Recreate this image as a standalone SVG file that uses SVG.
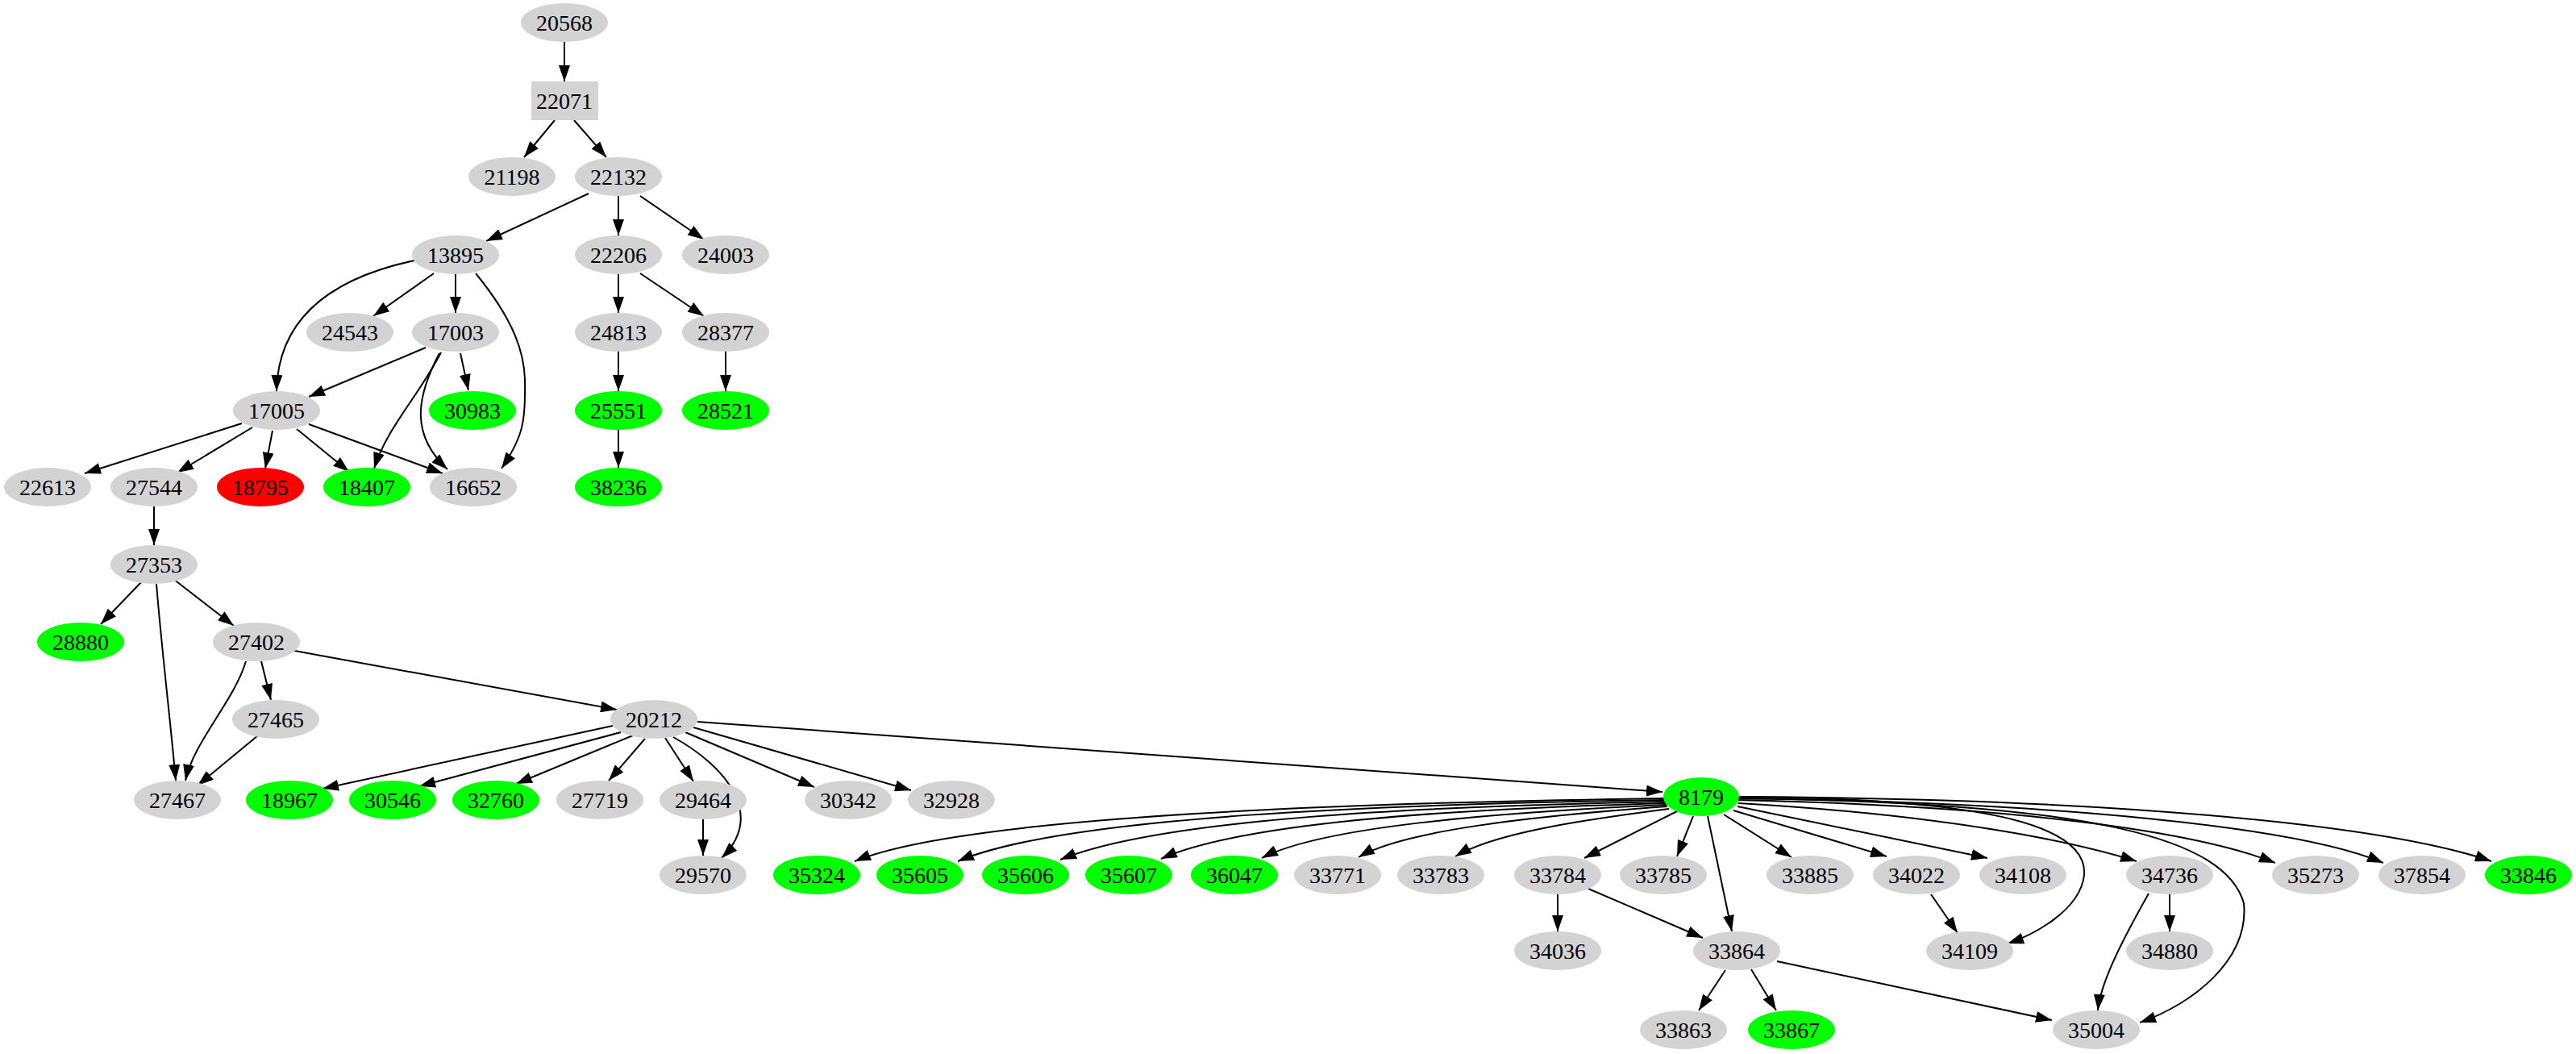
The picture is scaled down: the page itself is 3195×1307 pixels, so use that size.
<svg xmlns="http://www.w3.org/2000/svg" width="3195" height="1307" viewBox="0 0 3195 1307">
<style>
.n ellipse,.n rect{fill:#d3d3d3}
.g ellipse{fill:#00ff00}
.r ellipse{fill:#ff0000}
text{font-family:"Liberation Serif","Times New Roman",serif;font-size:28px;text-anchor:middle;dominant-baseline:central;fill:#000}
#edges path{fill:none;stroke:#000;stroke-width:2;marker-end:url(#a)}
</style>
<defs><marker id="a" markerUnits="userSpaceOnUse" markerWidth="20" markerHeight="14" refX="20" refY="7" orient="auto"><path d="M0,0 L20,7 L0,14 z" fill="#000"/></marker></defs>
<rect width="3195" height="1307" fill="#fff"/>
<g id="edges">
<path d="M700,52 L700,101"/>
<path d="M688,149 L650,195"/>
<path d="M712,149 L752,195"/>
<path d="M730,240 L603,299"/>
<path d="M767,243 L767,292"/>
<path d="M794,243 L873,297"/>
<path d="M538,339 L463,392"/>
<path d="M565,340 L565,388"/>
<path d="M514,323 C425,342 345,385 343,485"/>
<path d="M590,339 C640,400 650,440 651,470 C652,520 650,540 622,581"/>
<path d="M528,431 L383,492"/>
<path d="M571,438 L581,484"/>
<path d="M547,437 C520,490 480,530 464,581"/>
<path d="M545,438 C515,495 510,540 555,582"/>
<path d="M300,525 L105,587"/>
<path d="M313,530 L220,586"/>
<path d="M338,534 L329,581"/>
<path d="M368,532 L433,585"/>
<path d="M383,526 L549,587"/>
<path d="M767,340 L767,388"/>
<path d="M794,339 L873,392"/>
<path d="M767,436 L767,485"/>
<path d="M900,436 L900,485"/>
<path d="M767,533 L767,580"/>
<path d="M191,628 L191,676"/>
<path d="M175,722 L125,774"/>
<path d="M215,718 L290,776"/>
<path d="M194,724 C200,800 212,900 218,968"/>
<path d="M305,820 C290,870 240,920 230,968"/>
<path d="M324,820 L336,868"/>
<path d="M320,912 L245,974"/>
<path d="M360,806 L765,880"/>
<path d="M760,900 L400,978"/>
<path d="M770,908 L520,975"/>
<path d="M785,912 L640,972"/>
<path d="M800,916 L755,968"/>
<path d="M825,915 L860,969"/>
<path d="M850,908 L1010,976"/>
<path d="M860,902 L1130,980"/>
<path d="M865,895 L2062,982"/>
<path d="M835,914 C900,950 950,1010 895,1064"/>
<path d="M872,1016 L872,1061"/>
<path d="M2064,990 C1700,995 1200,1010 1060,1068"/>
<path d="M2064,992 C1720,997 1320,1012 1188,1068"/>
<path d="M2065,994 C1760,1000 1440,1015 1315,1066"/>
<path d="M2066,996 C1800,1003 1540,1020 1440,1065"/>
<path d="M2067,998 C1850,1008 1640,1025 1565,1064"/>
<path d="M2068,1000 C1900,1012 1740,1030 1685,1063"/>
<path d="M2070,1003 C1950,1018 1850,1035 1805,1062"/>
<path d="M2080,1006 L1965,1064"/>
<path d="M2100,1012 L2080,1062"/>
<path d="M2138,1010 L2222,1063"/>
<path d="M2150,1005 L2340,1062"/>
<path d="M2155,1000 L2465,1064"/>
<path d="M2156,996 C2400,1010 2560,1040 2650,1068"/>
<path d="M2156,992 C2500,1000 2720,1030 2822,1070"/>
<path d="M2156,990 C2550,995 2850,1025 2956,1070"/>
<path d="M2156,988 C2600,990 2950,1020 3090,1068"/>
<path d="M2118,1012 L2148,1155"/>
<path d="M2157,988 C2450,990 2590,1020 2585,1085 C2580,1130 2520,1160 2490,1170"/>
<path d="M2157,990 C2600,995 2760,1040 2783,1120 C2790,1190 2720,1245 2654,1268"/>
<path d="M1932,1109 L1932,1155"/>
<path d="M1970,1102 L2112,1163"/>
<path d="M2395,1109 L2428,1157"/>
<path d="M2691,1109 L2691,1155"/>
<path d="M2665,1108 C2630,1170 2605,1220 2602,1253"/>
<path d="M2140,1203 L2107,1253"/>
<path d="M2172,1202 L2203,1253"/>
<path d="M2204,1192 L2545,1265"/>
</g>
<g id="n20568" class="n"><ellipse cx="700" cy="28" rx="54" ry="24"/><text x="700" y="28">20568</text></g>
<g id="n22071" class="n"><rect x="659" y="101" width="83" height="48"/><text x="700" y="125">22071</text></g>
<g id="n21198" class="n"><ellipse cx="635" cy="219" rx="54" ry="24"/><text x="635" y="219">21198</text></g>
<g id="n22132" class="n"><ellipse cx="767" cy="219" rx="54" ry="24"/><text x="767" y="219">22132</text></g>
<g id="n13895" class="n"><ellipse cx="565" cy="316" rx="54" ry="24"/><text x="565" y="316">13895</text></g>
<g id="n22206" class="n"><ellipse cx="767" cy="316" rx="54" ry="24"/><text x="767" y="316">22206</text></g>
<g id="n24003" class="n"><ellipse cx="900" cy="316" rx="54" ry="24"/><text x="900" y="316">24003</text></g>
<g id="n24543" class="n"><ellipse cx="434" cy="412" rx="54" ry="24"/><text x="434" y="412">24543</text></g>
<g id="n17003" class="n"><ellipse cx="565" cy="412" rx="54" ry="24"/><text x="565" y="412">17003</text></g>
<g id="n24813" class="n"><ellipse cx="767" cy="412" rx="54" ry="24"/><text x="767" y="412">24813</text></g>
<g id="n28377" class="n"><ellipse cx="900" cy="412" rx="54" ry="24"/><text x="900" y="412">28377</text></g>
<g id="n17005" class="n"><ellipse cx="343" cy="509" rx="54" ry="24"/><text x="343" y="509">17005</text></g>
<g id="n30983" class="g"><ellipse cx="586" cy="509" rx="54" ry="24"/><text x="586" y="509">30983</text></g>
<g id="n25551" class="g"><ellipse cx="767" cy="509" rx="54" ry="24"/><text x="767" y="509">25551</text></g>
<g id="n28521" class="g"><ellipse cx="900" cy="509" rx="54" ry="24"/><text x="900" y="509">28521</text></g>
<g id="n22613" class="n"><ellipse cx="59" cy="604" rx="54" ry="24"/><text x="59" y="604">22613</text></g>
<g id="n27544" class="n"><ellipse cx="191" cy="604" rx="54" ry="24"/><text x="191" y="604">27544</text></g>
<g id="n18795" class="r"><ellipse cx="323" cy="604" rx="54" ry="24"/><text x="323" y="604">18795</text></g>
<g id="n18407" class="g"><ellipse cx="455" cy="604" rx="54" ry="24"/><text x="455" y="604">18407</text></g>
<g id="n16652" class="n"><ellipse cx="587" cy="604" rx="54" ry="24"/><text x="587" y="604">16652</text></g>
<g id="n38236" class="g"><ellipse cx="767" cy="604" rx="54" ry="24"/><text x="767" y="604">38236</text></g>
<g id="n27353" class="n"><ellipse cx="191" cy="700" rx="54" ry="24"/><text x="191" y="700">27353</text></g>
<g id="n28880" class="g"><ellipse cx="100" cy="796" rx="54" ry="24"/><text x="100" y="796">28880</text></g>
<g id="n27402" class="n"><ellipse cx="318" cy="796" rx="54" ry="24"/><text x="318" y="796">27402</text></g>
<g id="n27465" class="n"><ellipse cx="342" cy="892" rx="54" ry="24"/><text x="342" y="892">27465</text></g>
<g id="n20212" class="n"><ellipse cx="811" cy="892" rx="54" ry="24"/><text x="811" y="892">20212</text></g>
<g id="n27467" class="n"><ellipse cx="220" cy="992" rx="54" ry="24"/><text x="220" y="992">27467</text></g>
<g id="n18967" class="g"><ellipse cx="359" cy="992" rx="54" ry="24"/><text x="359" y="992">18967</text></g>
<g id="n30546" class="g"><ellipse cx="487" cy="992" rx="54" ry="24"/><text x="487" y="992">30546</text></g>
<g id="n32760" class="g"><ellipse cx="615" cy="992" rx="54" ry="24"/><text x="615" y="992">32760</text></g>
<g id="n27719" class="n"><ellipse cx="744" cy="992" rx="54" ry="24"/><text x="744" y="992">27719</text></g>
<g id="n29464" class="n"><ellipse cx="872" cy="992" rx="54" ry="24"/><text x="872" y="992">29464</text></g>
<g id="n30342" class="n"><ellipse cx="1052" cy="992" rx="54" ry="24"/><text x="1052" y="992">30342</text></g>
<g id="n32928" class="n"><ellipse cx="1180" cy="992" rx="54" ry="24"/><text x="1180" y="992">32928</text></g>
<g id="n8179" class="g"><ellipse cx="2110" cy="988" rx="47" ry="24"/><text x="2110" y="988">8179</text></g>
<g id="n29570" class="n"><ellipse cx="872" cy="1085" rx="54" ry="24"/><text x="872" y="1085">29570</text></g>
<g id="n35324" class="g"><ellipse cx="1013" cy="1085" rx="54" ry="24"/><text x="1013" y="1085">35324</text></g>
<g id="n35605" class="g"><ellipse cx="1141" cy="1085" rx="54" ry="24"/><text x="1141" y="1085">35605</text></g>
<g id="n35606" class="g"><ellipse cx="1272" cy="1085" rx="54" ry="24"/><text x="1272" y="1085">35606</text></g>
<g id="n35607" class="g"><ellipse cx="1400" cy="1085" rx="54" ry="24"/><text x="1400" y="1085">35607</text></g>
<g id="n36047" class="g"><ellipse cx="1531" cy="1085" rx="54" ry="24"/><text x="1531" y="1085">36047</text></g>
<g id="n33771" class="n"><ellipse cx="1659" cy="1085" rx="54" ry="24"/><text x="1659" y="1085">33771</text></g>
<g id="n33783" class="n"><ellipse cx="1787" cy="1085" rx="54" ry="24"/><text x="1787" y="1085">33783</text></g>
<g id="n33784" class="n"><ellipse cx="1932" cy="1085" rx="54" ry="24"/><text x="1932" y="1085">33784</text></g>
<g id="n33785" class="n"><ellipse cx="2063" cy="1085" rx="54" ry="24"/><text x="2063" y="1085">33785</text></g>
<g id="n33885" class="n"><ellipse cx="2245" cy="1085" rx="54" ry="24"/><text x="2245" y="1085">33885</text></g>
<g id="n34022" class="n"><ellipse cx="2377" cy="1085" rx="54" ry="24"/><text x="2377" y="1085">34022</text></g>
<g id="n34108" class="n"><ellipse cx="2509" cy="1085" rx="54" ry="24"/><text x="2509" y="1085">34108</text></g>
<g id="n34736" class="n"><ellipse cx="2691" cy="1085" rx="54" ry="24"/><text x="2691" y="1085">34736</text></g>
<g id="n35273" class="n"><ellipse cx="2872" cy="1085" rx="54" ry="24"/><text x="2872" y="1085">35273</text></g>
<g id="n37854" class="n"><ellipse cx="3004" cy="1085" rx="54" ry="24"/><text x="3004" y="1085">37854</text></g>
<g id="n33846" class="g"><ellipse cx="3136" cy="1085" rx="54" ry="24"/><text x="3136" y="1085">33846</text></g>
<g id="n34036" class="n"><ellipse cx="1932" cy="1179" rx="54" ry="24"/><text x="1932" y="1179">34036</text></g>
<g id="n33864" class="n"><ellipse cx="2154" cy="1179" rx="54" ry="24"/><text x="2154" y="1179">33864</text></g>
<g id="n34109" class="n"><ellipse cx="2443" cy="1179" rx="54" ry="24"/><text x="2443" y="1179">34109</text></g>
<g id="n34880" class="n"><ellipse cx="2691" cy="1179" rx="54" ry="24"/><text x="2691" y="1179">34880</text></g>
<g id="n33863" class="n"><ellipse cx="2088" cy="1277" rx="54" ry="24"/><text x="2088" y="1277">33863</text></g>
<g id="n33867" class="g"><ellipse cx="2222" cy="1277" rx="54" ry="24"/><text x="2222" y="1277">33867</text></g>
<g id="n35004" class="n"><ellipse cx="2600" cy="1277" rx="54" ry="24"/><text x="2600" y="1277">35004</text></g>
</svg>
